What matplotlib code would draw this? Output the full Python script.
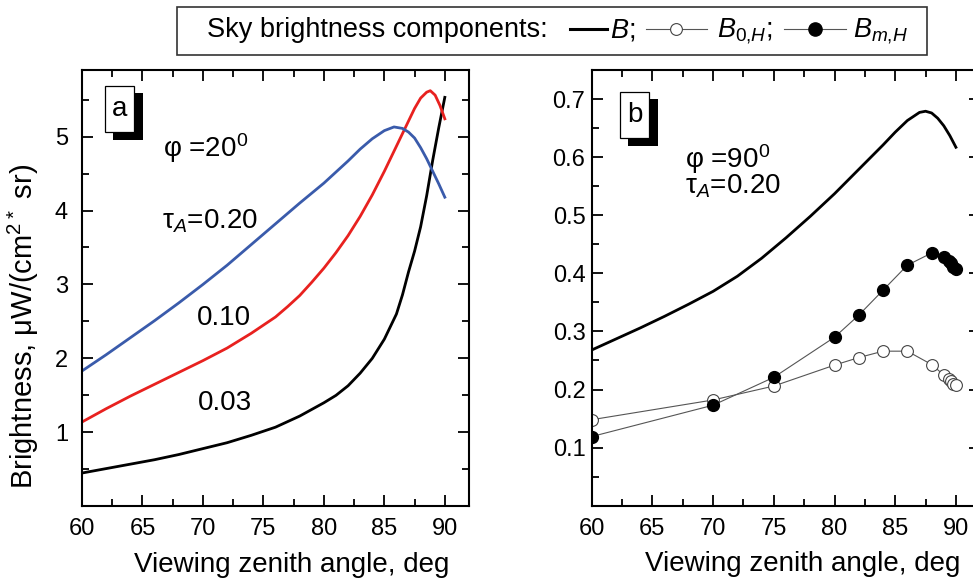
import matplotlib
matplotlib.use('Agg')
import matplotlib.pyplot as plt
from matplotlib.lines import Line2D
from matplotlib.patches import Rectangle
from matplotlib.ticker import MultipleLocator

plt.rcParams['font.family'] = ['Liberation Sans', 'DejaVu Sans']
plt.rcParams['mathtext.fontset'] = 'custom'
plt.rcParams['mathtext.rm'] = 'Liberation Sans'
plt.rcParams['mathtext.it'] = 'Liberation Sans:italic'
plt.rcParams['mathtext.bf'] = 'Liberation Sans:bold'

# panel a: total brightness B for three aerosol optical depths (phi = 20 deg)
x_003 = [60, 62, 64, 66, 68, 70, 72, 74, 76, 78, 80, 81, 82, 83, 84, 85, 86,
         86.5, 87, 87.5, 88, 88.5, 89, 89.5, 90]
y_003 = [0.45, 0.51, 0.57, 0.63, 0.70, 0.78, 0.86, 0.96, 1.07, 1.22, 1.40, 1.50,
         1.63, 1.80, 2.00, 2.26, 2.60, 2.86, 3.17, 3.45, 3.78, 4.20, 4.68, 5.12, 5.53]

x_010 = [60, 62, 64, 66, 68, 70, 72, 74, 76, 77, 78, 79, 80, 81, 82, 83, 84, 85,
         86, 87, 87.5, 88, 88.5, 88.8, 89.2, 89.6, 90]
y_010 = [1.14, 1.32, 1.49, 1.65, 1.81, 1.97, 2.14, 2.34, 2.56, 2.70, 2.85, 3.03,
         3.22, 3.43, 3.66, 3.92, 4.21, 4.53, 4.87, 5.21, 5.38, 5.52, 5.60, 5.62,
         5.56, 5.42, 5.24]

x_020 = [60, 62, 64, 66, 68, 70, 72, 74, 76, 78, 80, 81, 82, 83, 84, 85, 85.8,
         86.5, 87, 87.5, 88, 88.5, 89, 89.5, 90]
y_020 = [1.83, 2.05, 2.28, 2.51, 2.75, 3.00, 3.26, 3.54, 3.82, 4.10, 4.37, 4.52,
         4.67, 4.83, 4.97, 5.08, 5.13, 5.11, 5.06, 4.98, 4.85, 4.70, 4.53, 4.36, 4.18]

# panel b: components (phi = 90 deg, tau = 0.20)
x_B = [60, 62, 64, 66, 68, 70, 72, 74, 76, 78, 80, 82, 84, 85, 86, 87, 87.5,
       88, 88.5, 89, 89.5, 90]
y_B = [0.268, 0.287, 0.306, 0.326, 0.347, 0.369, 0.395, 0.426, 0.461, 0.498,
       0.537, 0.579, 0.621, 0.643, 0.663, 0.677, 0.679, 0.676, 0.667, 0.654,
       0.637, 0.617]

x_H = [60, 70, 75, 80, 82, 84, 86, 88, 89, 89.4, 89.6, 89.8, 90]
y_B0H = [0.148, 0.182, 0.206, 0.242, 0.255, 0.266, 0.266, 0.243, 0.225, 0.218,
         0.214, 0.210, 0.207]
y_BmH = [0.119, 0.173, 0.221, 0.290, 0.328, 0.371, 0.414, 0.435, 0.428, 0.422,
         0.417, 0.411, 0.407]

W, H = 973, 583
fig = plt.figure(figsize=(W / 100, H / 100), dpi=100)
ax1 = fig.add_axes([82 / W, 1 - 506.3 / H, 387 / W, 436.3 / H])
ax2 = fig.add_axes([591.7 / W, 1 - 505.7 / H, 388.5 / W, 435.7 / H])

lw = 2.0
ax1.plot(x_003, y_003, color='black', lw=lw)
ax1.plot(x_010, y_010, color='#e8211f', lw=lw)
ax1.plot(x_020, y_020, color='#3a5bab', lw=lw)

open_style = dict(color='#555555', lw=0.8, marker='o', ms=8.5,
                  mfc='white', mec='#444444', mew=0.8)
fill_style = dict(color='#555555', lw=0.8, marker='o', ms=8.5,
                  mfc='black', mec='black')
ax2.plot(x_B, y_B, color='black', lw=lw)
ax2.plot(x_H, y_B0H, **open_style)
ax2.plot(x_H, y_BmH, **fill_style)

ax1.set_xlim(60, 92)
ax1.set_ylim(0, 5.9)
ax1.set_yticks([1, 2, 3, 4, 5])
ax1.yaxis.set_minor_locator(MultipleLocator(0.5))

ax2.set_xlim(60, 92)
ax2.set_ylim(0, 0.75)
ax2.set_yticks([0.1, 0.2, 0.3, 0.4, 0.5, 0.6, 0.7])
ax2.yaxis.set_minor_locator(MultipleLocator(0.05))

for ax, ypad in ((ax1, 10), (ax2, 4.5)):
    ax.xaxis.set_major_locator(MultipleLocator(5))
    ax.xaxis.set_minor_locator(MultipleLocator(2.5))
    ax.tick_params(which='both', direction='in', top=True, right=True, width=1.3,
                   labelsize=17)
    ax.tick_params(which='major', length=8)
    ax.tick_params(which='minor', length=5)
    ax.tick_params(axis='x', pad=8.5)
    ax.tick_params(axis='y', pad=ypad)
    for s in ax.spines.values():
        s.set_linewidth(1.5)
    ax.set_xlabel('Viewing zenith angle, deg', fontsize=20)
    ax.xaxis.set_label_coords(0.543, -0.105)

ax1.set_ylabel('Brightness, μW/(cm$^2$$^*$ sr)', fontsize=21)
ax1.yaxis.set_label_coords(-0.106, 0.413)

# text annotations
ax1.text(66.7, 4.72, 'φ =20$^0$', fontsize=20)
ax1.text(66.6, 3.76, 'τ$_{A}$=0.20', fontsize=20)
ax1.text(69.5, 2.45, '0.10', fontsize=20)
ax1.text(69.6, 1.30, '0.03', fontsize=20)
ax2.text(67.7, 0.582, 'φ =90$^0$', fontsize=20)
ax2.text(67.7, 0.537, 'τ$_{A}$=0.20', fontsize=20)


# figure-pixel helpers for the decorations
def fx(px):
    return px / W


def fy(py):
    return 1 - py / H


# panel labels: white box with a black drop shadow
for lab, x0, y0 in (('a', 105, 86), ('b', 620, 92)):
    fig.add_artist(Rectangle((fx(x0 + 8), fy(y0 + 46 + 8)), 30 / W, 47 / H,
                             transform=fig.transFigure, fc='black', ec='black', lw=0))
    fig.add_artist(Rectangle((fx(x0), fy(y0 + 46)), 29 / W, 46 / H,
                             transform=fig.transFigure, fc='white', ec='black', lw=0.9))
    fig.text(fx(x0 + 14.5), fy(y0 + 23), lab, fontsize=20, ha='center', va='center')

# top legend box
fig.add_artist(Rectangle((fx(176.7), fy(55)), (926.7 - 176.7) / W, 47.7 / H,
                         transform=fig.transFigure, fill=False, ec='#333333', lw=1.2))
ly = fy(28.5)
base = fy(37.3)
fs = 19.5
fig.text(fx(206.7), base, 'Sky brightness components:', fontsize=fs, va='baseline')
fig.add_artist(Line2D([fx(570), fx(606.7)], [ly, ly], color='black', lw=2.2,
                      transform=fig.transFigure))
fig.text(fx(610), base, '$B$;', fontsize=fs, va='baseline')
fig.add_artist(Line2D([fx(646), fx(706.7)], [ly, ly], color='#555555', lw=0.8,
                      transform=fig.transFigure))
fig.add_artist(Line2D([fx(676)], [ly], ls='none', marker='o', ms=8.5, mfc='white',
                      mec='#444444', mew=0.8, transform=fig.transFigure))
fig.text(fx(717), base, '$B_{0{,}H}$;', fontsize=fs, va='baseline')
fig.add_artist(Line2D([fx(784), fx(846)], [ly, ly], color='#555555', lw=0.8,
                      transform=fig.transFigure))
fig.add_artist(Line2D([fx(815)], [ly], ls='none', marker='o', ms=9.5, mfc='black',
                      mec='black', transform=fig.transFigure))
fig.text(fx(853), base, '$B_{m{,}H}$', fontsize=fs, va='baseline')

fig.savefig('out.png', dpi=100)
